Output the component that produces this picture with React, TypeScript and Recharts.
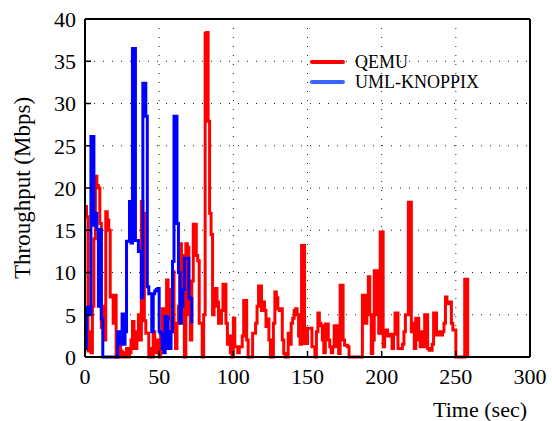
import { LineChart, Line, XAxis, YAxis, CartesianGrid } from 'recharts';

// one sample per second, index = time (sec)
const qemuMbps = [
  17.8, 16.6, 0.7, 3, 0.5, 6, 14, 21.4, 20.3, 20, 15.8, 3.5, 6, 2, 17.2, 16.2, 15, 7.1, 7.3, 4,
  7.3, 0, 0, 1.5, 0.7, 0, 0.5, 0, 1, 0, 0.5, 2, 4.2, 1, 1, 3, 5, 2, 18.4, 17,
  4.3, 2.8, 2.8, 0, 1, 0, 3, 0.5, 2, 1, 0, 3, 5.7, 2.5, 5, 9.1, 8, 4.6, 3, 10.1,
  3.1, 1, 4, 6, 13.4, 12, 5, 0, 13.4, 13, 5, 2, 9, 15.7, 15.7, 12, 11.4, 4, 4, 0,
  5, 38.3, 38.4, 27.9, 17, 14.5, 5, 6, 8.1, 6.5, 4, 4, 5.5, 8.6, 8.6, 4, 1.5, 2.5, 0.5, 0,
  4.6, 1.2, 1.2, 0.5, 1.2, 1.2, 2.5, 6.7, 6.7, 2, 0, 0, 0, 2.8, 2.8, 4, 6, 8.4, 8.4, 5.5,
  6.5, 5.5, 3.6, 4.5, 2, 0, 0, 4, 7.7, 7, 5.7, 5.5, 5.7, 2, 0.4, 0, 0, 2.8, 1.5, 4,
  4.6, 5.5, 5.7, 5, 2.5, 1.5, 13.2, 13.2, 1.6, 1.6, 3.4, 3.4, 3.4, 1.2, 1.2, 0, 3, 5.2, 4, 3.7,
  2, 0.5, 3.9, 3.9, 2, 1.2, 0.5, 1.2, 3.7, 3.7, 1.2, 0.4, 8.5, 8.5, 2, 1.4, 1.4, 1.2, 0, 0,
  0, 0, 0, 0, 0, 0, 0, 7.3, 7.3, 4, 5.5, 9.5, 5, 0.4, 2, 10.2, 10.2, 5, 2.8, 14.8,
  14.8, 1.2, 3, 3.2, 2.5, 2.7, 2.7, 1, 2.7, 5.2, 5.2, 1, 1, 1, 1.5, 3, 5, 5, 18.3, 18.3,
  3, 4, 1, 4.6, 4.6, 2, 1.2, 3, 1.2, 5, 5, 1, 0.8, 0.8, 1.5, 5.2, 5.2, 2.6, 2.6, 3,
  2.6, 3, 4, 7.1, 6.5, 6.3, 6.5, 4, 3.2, 3.2, 0, 0, 0, 0, 0, 0, 9.2, 9.2, 0,
];

const umlMbps = [
  1, 5.9, 5.9, 5, 26.1, 26.1, 15.6, 17, 15.1, 6, 15.1, 4.5, 0, 0, 0, 0, 0, 0, 0, 0,
  0, 0, 3, 3, 1.5, 5.1, 1.5, 3, 13.7, 13.7, 18.4, 13.5, 36.5, 36.5, 13.8, 13.8, 12.5, 12.5, 7, 32.4,
  32.4, 28.5, 8.3, 7.5, 7.5, 3, 7.5, 7.8, 8, 8.1, 3, 2.8, 1, 0.5, 4.8, 4.7, 1, 1, 3, 11.3,
  28.5, 28.5, 15.8, 10, 4, 6, 8, 11.7, 11.7, 11.7, 7, 6.9, 4,
];

const timeTicks = [0, 50, 100, 150, 200, 250, 300];
const rateTicks = [0, 5, 10, 15, 20, 25, 30, 35, 40];

const seriesNames = ['QEMU', 'UML-KNOPPIX'];
const legendColors = ['#ff0000', '#3a66ff'];

const qemuData = qemuMbps.map((v, i) => ({ t: i, v }));
const umlData = umlMbps.map((v, i) => ({ t: i, v }));

const FONT = '"Liberation Serif", "Times New Roman", serif';
const tickStyle = { fill: '#000', fontSize: 22, fontFamily: FONT };

const YTitle = (props: any) => {
  const { viewBox } = props;
  const cx = 22;
  const cy = viewBox.y + viewBox.height / 2;
  return (
    <text x={cx} y={cy} transform={`rotate(-90, ${cx}, ${cy})`} textAnchor="middle"
      dominantBaseline="central" fontFamily={FONT} fontSize={23} fill="#000">
      Throughput (Mbps)
    </text>
  );
};

const XTitle = (props: any) => {
  const { viewBox } = props;
  return (
    <text x={viewBox.x + viewBox.width - 3} y={viewBox.y + viewBox.height - 4} textAnchor="end"
      fontFamily={FONT} fontSize={22} fill="#000">
      Time (sec)
    </text>
  );
};

export default function App() {
  return (
    <div style={{ position: 'absolute', left: 0, top: 0, width: 552, height: 421, background: '#fff' }}>
      <LineChart width={552} height={421} margin={{ top: 9, right: 12, left: 0, bottom: 0 }}>
        <CartesianGrid stroke="#222" strokeDasharray="1 8" strokeWidth={1} />
        <XAxis dataKey="t" type="number" domain={[0, 300]} ticks={timeTicks} allowDuplicatedCategory={false}
          height={64} tick={tickStyle} tickSize={-6} tickMargin={17}
          axisLine={{ stroke: '#000', strokeWidth: 2 }} tickLine={{ stroke: '#000', strokeWidth: 1.5 }}
          label={<XTitle />} />
        <XAxis xAxisId="top" orientation="top" type="number" domain={[0, 300]} ticks={timeTicks}
          height={10} tick={false} tickSize={-6}
          axisLine={{ stroke: '#000', strokeWidth: 2 }} tickLine={{ stroke: '#000', strokeWidth: 1.5 }} />
        <YAxis type="number" domain={[0, 40]} ticks={rateTicks} width={85} tick={tickStyle}
          tickSize={-6} tickMargin={15}
          axisLine={{ stroke: '#000', strokeWidth: 2 }} tickLine={{ stroke: '#000', strokeWidth: 1.5 }}
          label={<YTitle />} />
        <YAxis yAxisId="right" orientation="right" type="number" domain={[0, 40]} ticks={rateTicks}
          width={10} tick={false} tickSize={-6}
          axisLine={{ stroke: '#000', strokeWidth: 2 }} tickLine={{ stroke: '#000', strokeWidth: 1.5 }} />
        <Line data={qemuData} dataKey="v" name={seriesNames[0]} type="stepAfter" stroke="#ff0000" strokeWidth={3}
          dot={false} isAnimationActive={false} />
        <Line data={umlData} dataKey="v" name={seriesNames[1]} type="stepAfter" stroke="#0000ff" strokeWidth={3}
          dot={false} isAnimationActive={false} />
      </LineChart>
      <div style={{ position: 'absolute', left: 310, top: 52, fontFamily: FONT, fontSize: 18, color: '#000' }}>
        {seriesNames.map((n, i) => (
          <div key={n} style={{ display: 'flex', alignItems: 'center', height: 20 }}>
            <span style={{ display: 'inline-block', width: 35, height: 4, background: legendColors[i], borderRadius: 2, marginRight: 10 }} />
            <span>{n}</span>
          </div>
        ))}
      </div>
    </div>
  );
}
